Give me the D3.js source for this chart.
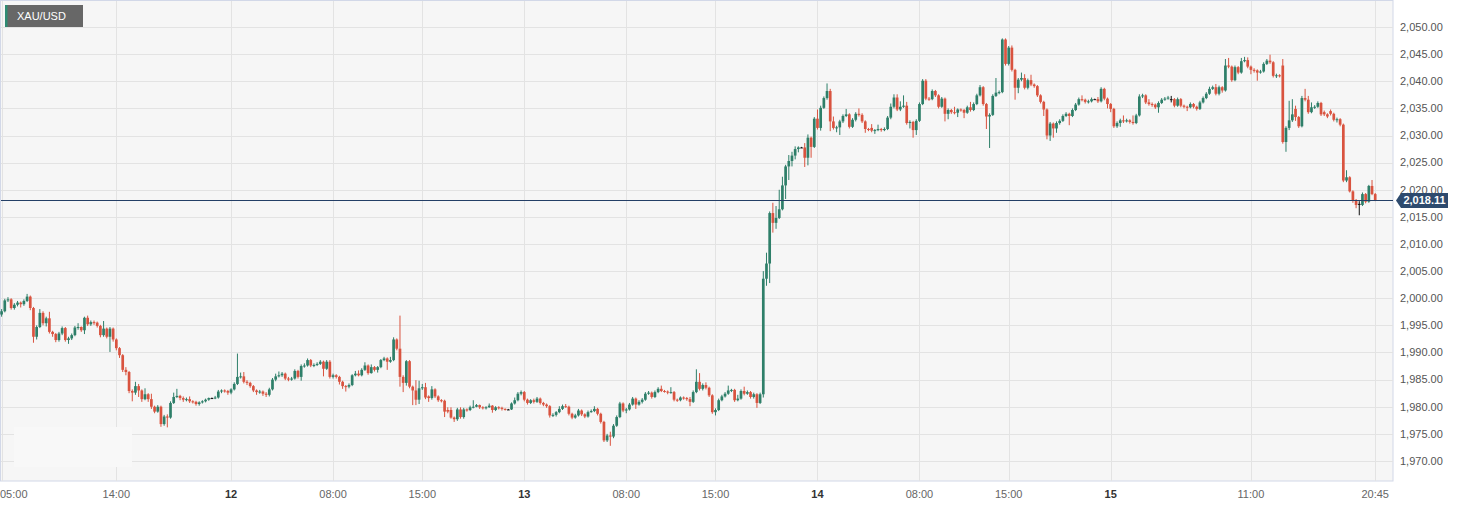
<!DOCTYPE html>
<html><head><meta charset="utf-8">
<script src="https://cdn.jsdelivr.net/npm/d3@7"></script>
<style>
body{margin:0;background:#fff;}
svg{display:block;font-family:"Liberation Sans",Arial,Helvetica,sans-serif;}
</style>
</head><body>
<svg id="chart" width="1464" height="507"></svg>
<script>
const symbol = "XAU/USD";
const lastPrice = 2018.11;
const firstCandle = {day: 11, hour: 5};

const open = [
1997.0,1997.6,1999.6,1999.8,1998.2,1998.8,1999.2,1998.9,1999.5,2000.3,
1998.2,1992.9,1994.7,1997.3,1995.4,1996.3,1993.8,1993.4,1992.3,1993.5,
1994.5,1992.3,1992.6,1993.2,1994.6,1994.7,1994.1,1996.4,1995.2,1995.6,
1995.5,1994.9,1993.2,1994.4,1992.9,1994.4,1992.4,1990.8,1989.5,1986.8,
1986.4,1982.9,1982.6,1983.8,1983.0,1981.4,1982.3,1981.4,1980.0,1979.1,
1980.0,1976.8,1978.2,1978.0,1980.7,1981.8,1982.0,1981.6,1981.3,1981.4,
1981.0,1980.9,1980.5,1980.8,1981.0,1981.3,1981.6,1981.6,1981.7,1982.8,
1983.0,1982.9,1982.6,1983.2,1984.2,1985.5,1985.6,1984.6,1984.4,1983.8,
1983.0,1982.7,1982.8,1982.4,1982.2,1983.2,1985.0,1985.6,1985.8,1986.1,
1985.2,1985.0,1985.2,1986.6,1985.5,1987.5,1987.6,1988.6,1987.6,1987.7,
1987.9,1988.3,1987.0,1988.3,1985.5,1985.8,1985.5,1984.6,1983.8,1983.7,
1984.0,1985.8,1986.1,1985.8,1986.8,1987.6,1986.2,1987.3,1986.8,1987.3,
1988.6,1988.9,1988.3,1988.6,1992.4,1990.7,1985.5,1984.4,1988.4,1983.7,
1983.0,1981.3,1983.4,1983.6,1981.9,1981.6,1983.2,1981.9,1981.2,1981.1,
1979.4,1979.4,1978.0,1977.7,1979.5,1978.1,1979.5,1979.4,1979.9,1980.0,
1980.3,1979.9,1979.8,1979.9,1980.2,1979.4,1979.9,1979.8,1979.6,1979.5,
1979.5,1980.6,1981.2,1982.4,1982.7,1981.3,1980.7,1981.2,1980.9,1981.5,
1980.7,1980.4,1980.1,1978.4,1978.5,1979.0,1979.6,1980.1,1980.0,1978.7,
1978.0,1978.4,1979.3,1978.6,1978.2,1979.0,1979.2,1979.6,1978.7,1977.2,
1973.8,1974.7,1974.5,1976.5,1978.1,1980.6,1979.3,1979.5,1980.4,1981.5,
1980.4,1980.9,1981.3,1982.4,1982.6,1981.8,1982.7,1983.3,1982.9,1982.8,
1982.6,1982.7,1981.3,1981.2,1981.7,1981.6,1981.4,1980.9,1982.7,1984.6,
1983.3,1984.0,1983.5,1982.1,1979.0,1979.4,1981.2,1981.9,1982.4,1983.0,
1983.1,1981.2,1981.5,1982.9,1982.4,1982.7,1981.8,1982.3,1980.7,1982.3,
2003.6,2006.4,2015.7,2013.9,2014.8,2016.4,2020.8,2024.3,2025.3,2026.3,
2027.5,2027.8,2027.8,2025.9,2029.6,2027.9,2033.1,2031.4,2035.1,2036.9,
2038.2,2032.6,2031.4,2031.5,2032.6,2033.6,2033.9,2031.6,2032.9,2034.0,
2033.8,2032.6,2031.2,2031.4,2030.9,2031.0,2031.2,2031.0,2031.2,2033.3,
2035.3,2037.0,2034.8,2035.3,2035.5,2032.3,2032.5,2031.0,2032.7,2035.8,
2040.1,2036.8,2036.7,2038.2,2037.4,2035.3,2036.8,2034.0,2034.7,2034.3,
2034.2,2034.8,2034.7,2034.2,2035.2,2034.7,2035.8,2037.4,2038.9,2035.8,
2033.5,2033.8,2037.3,2037.9,2038.0,2047.7,2043.2,2046.2,2042.1,2038.8,
2040.3,2040.6,2038.8,2040.2,2039.4,2039.1,2037.4,2036.2,2034.8,2030.0,
2032.2,2031.3,2032.3,2032.7,2033.6,2034.0,2033.6,2034.7,2035.7,2036.7,
2036.6,2036.2,2036.3,2036.7,2036.7,2036.3,2038.6,2036.8,2035.8,2034.9,
2031.7,2032.3,2032.8,2032.6,2032.8,2032.5,2032.3,2033.7,2037.2,2037.4,
2036.1,2035.8,2035.7,2035.2,2036.0,2036.6,2036.8,2036.7,2036.7,2035.5,
2036.7,2035.5,2035.3,2035.2,2035.8,2035.3,2034.9,2036.1,2036.9,2037.7,
2038.6,2038.9,2037.7,2038.9,2038.3,2042.9,2042.7,2040.2,2042.6,2041.6,
2043.7,2043.9,2042.7,2042.1,2042.0,2041.6,2041.8,2043.2,2043.8,2043.5,
2041.0,2041.1,2042.9,2028.8,2031.4,2032.8,2034.9,2033.4,2031.7,2036.9,
2036.6,2034.3,2035.2,2035.3,2036.0,2034.3,2033.9,2034.5,2034.0,2032.9,
2033.0,2032.0,2021.7,2022.3,2019.7,2018.1,2017.4,2017.2,2019.2,2017.8,
2020.7,2019.2
];
const high = [
1998.0,1999.9,2000.2,2000.0,1999.1,1999.5,1999.4,1999.8,2000.8,2000.5,
1998.4,1995.0,1998.0,1997.6,1996.6,1997.5,1994.0,1993.6,1993.8,1994.8,
1994.7,1992.9,1993.5,1994.9,1995.4,1994.8,1996.6,1996.8,1995.9,1995.9,
1995.7,1995.1,1995.8,1994.6,1994.7,1994.6,1992.6,1991.0,1989.7,1987.3,
1986.6,1983.2,1984.6,1984.2,1983.2,1983.4,1982.5,1982.4,1980.2,1980.3,
1980.2,1978.5,1978.6,1981.0,1982.6,1983.3,1982.2,1981.9,1981.7,1981.9,
1981.2,1981.1,1981.0,1981.2,1981.5,1981.7,1981.7,1982.0,1983.1,1983.2,
1983.2,1983.1,1983.4,1984.5,1989.8,1986.3,1986.4,1984.9,1984.6,1984.0,
1983.2,1983.1,1983.0,1982.7,1983.5,1985.3,1986.1,1986.5,1986.4,1986.3,
1985.5,1985.5,1986.9,1986.8,1987.8,1988.0,1988.9,1988.8,1988.0,1988.2,
1988.6,1988.5,1988.6,1988.6,1986.1,1986.0,1985.7,1984.8,1984.0,1984.3,
1986.0,1986.6,1986.7,1987.1,1988.2,1987.8,1987.8,1987.5,1987.5,1988.8,
1989.2,1989.1,1989.2,1992.8,1992.6,1996.8,1985.8,1988.6,1988.6,1983.9,
1984.9,1984.8,1984.2,1984.4,1982.1,1983.8,1983.4,1982.1,1981.4,1981.3,
1979.9,1979.9,1978.2,1979.8,1979.9,1979.8,1979.7,1980.2,1981.2,1980.5,
1980.4,1980.1,1980.1,1980.6,1980.3,1980.1,1980.1,1980.0,1979.7,1979.6,
1980.8,1981.7,1982.7,1983.0,1982.9,1981.5,1981.4,1981.5,1981.8,1981.7,
1980.9,1980.6,1980.3,1978.8,1979.2,1980.1,1980.4,1980.5,1980.2,1978.9,
1978.7,1979.6,1979.5,1978.8,1979.3,1979.5,1980.1,1979.8,1978.9,1977.4,
1975.0,1975.4,1976.8,1978.4,1980.9,1980.8,1979.8,1980.7,1981.8,1981.7,
1981.2,1981.6,1982.7,1982.9,1982.8,1983.0,1983.6,1983.9,1983.1,1983.0,
1983.6,1982.9,1981.5,1981.9,1981.9,1981.8,1981.8,1983.0,1986.9,1986.2,
1984.3,1984.5,1983.7,1982.3,1979.7,1981.5,1982.2,1982.7,1983.9,1983.3,
1983.3,1982.2,1983.2,1983.7,1983.0,1982.9,1982.6,1982.5,1982.6,2005.0,
2008.4,2016.0,2017.6,2017.0,2020.0,2022.4,2024.6,2026.4,2027.0,2028.0,
2028.0,2027.9,2028.6,2030.2,2029.8,2033.4,2034.8,2035.5,2037.2,2039.6,
2038.6,2033.5,2031.8,2032.9,2033.9,2034.9,2034.1,2033.2,2034.3,2035.0,
2034.1,2032.8,2031.4,2032.1,2031.2,2032.0,2031.4,2031.5,2033.6,2035.9,
2037.6,2037.6,2036.3,2037.4,2036.2,2032.8,2032.7,2033.0,2036.1,2040.4,
2040.4,2037.1,2038.5,2038.4,2037.6,2037.1,2037.0,2035.0,2034.9,2035.3,
2035.0,2035.0,2034.9,2035.5,2036.2,2036.1,2037.7,2039.3,2039.1,2036.0,
2034.1,2037.6,2040.6,2038.3,2047.9,2047.9,2046.5,2046.6,2042.3,2040.6,
2041.6,2041.3,2040.5,2041.2,2039.6,2039.3,2037.6,2036.4,2035.0,2032.5,
2032.4,2032.6,2033.0,2033.9,2034.3,2034.2,2035.0,2036.0,2037.0,2037.4,
2036.8,2036.6,2037.0,2036.8,2037.1,2038.9,2038.8,2037.0,2036.0,2035.1,
2032.6,2033.1,2033.7,2033.1,2033.0,2033.7,2034.0,2037.6,2037.7,2037.6,
2036.7,2036.1,2035.9,2036.3,2036.9,2037.1,2037.3,2037.3,2036.9,2037.0,
2036.9,2035.7,2035.5,2036.1,2036.0,2035.5,2036.4,2037.2,2038.0,2039.0,
2039.2,2039.5,2039.2,2039.1,2044.1,2044.3,2042.9,2042.9,2042.8,2044.3,
2044.5,2044.4,2042.9,2042.4,2042.2,2042.1,2043.5,2044.1,2044.9,2043.7,
2041.4,2041.3,2044.1,2031.7,2036.4,2036.7,2035.5,2033.6,2037.3,2038.6,
2037.3,2036.1,2035.6,2036.3,2036.2,2034.6,2034.1,2034.8,2034.2,2033.3,
2033.2,2032.2,2023.6,2022.5,2019.9,2018.3,2017.9,2019.5,2019.4,2020.9,
2021.8,2019.4
];
const low = [
1996.6,1997.4,1999.3,1997.9,1997.9,1998.5,1998.3,1998.6,1999.3,1997.8,
1991.8,1992.4,1994.5,1995.0,1994.8,1993.5,1992.9,1991.9,1992.0,1993.2,
1992.0,1991.6,1992.3,1993.0,1994.2,1993.8,1993.4,1994.9,1994.9,1995.1,
1994.6,1992.8,1992.9,1992.6,1990.1,1992.0,1990.4,1989.0,1986.4,1985.8,
1982.5,1981.0,1982.2,1981.8,1980.9,1981.2,1980.9,1979.6,1978.8,1978.9,
1976.3,1976.5,1976.2,1977.8,1980.5,1981.6,1981.2,1980.9,1981.0,1980.7,
1980.6,1980.2,1980.2,1980.6,1980.8,1981.1,1981.5,1981.4,1981.5,1982.5,
1982.6,1982.2,1982.3,1983.0,1984.0,1985.2,1984.3,1984.0,1983.5,1982.7,
1982.2,1982.4,1982.0,1981.8,1981.9,1983.0,1984.7,1985.4,1985.5,1984.9,
1984.7,1984.8,1985.0,1985.2,1984.8,1987.2,1987.4,1987.3,1987.3,1987.5,
1987.7,1985.6,1986.8,1985.2,1985.2,1985.2,1984.1,1983.3,1982.8,1983.4,
1983.8,1985.6,1985.6,1985.6,1986.6,1985.9,1986.1,1986.5,1986.3,1987.1,
1988.4,1986.8,1988.1,1988.4,1990.4,1983.7,1982.7,1983.9,1983.4,1980.3,
1980.3,1980.5,1983.1,1981.4,1980.9,1981.3,1981.6,1980.9,1980.8,1978.1,
1978.8,1977.8,1977.2,1977.4,1977.8,1977.8,1979.1,1979.2,1979.7,1979.9,
1979.6,1979.5,1979.5,1979.8,1978.9,1979.2,1979.5,1979.3,1979.3,1979.4,
1979.4,1980.4,1981.0,1982.1,1981.0,1980.4,1980.5,1980.6,1980.7,1980.4,
1980.1,1979.8,1978.0,1978.1,1978.2,1978.8,1979.4,1979.8,1978.4,1977.7,
1977.8,1978.2,1978.3,1977.9,1978.0,1978.9,1979.0,1978.4,1976.9,1973.5,
1973.5,1972.8,1974.2,1976.3,1977.9,1979.0,1978.8,1979.3,1980.2,1979.6,
1980.2,1980.6,1981.1,1982.2,1981.5,1981.6,1982.5,1982.7,1982.6,1982.3,
1982.4,1981.0,1980.9,1981.0,1981.3,1981.1,1980.1,1980.7,1982.5,1983.0,
1983.0,1983.2,1981.8,1978.7,1978.4,1979.2,1981.0,1981.7,1982.2,1982.7,
1980.9,1981.0,1981.3,1982.1,1982.2,1981.5,1981.5,1979.8,1980.5,1981.7,
2002.3,2002.8,2012.1,2012.8,2014.6,2016.2,2018.3,2021.8,2024.3,2025.6,
2026.9,2027.7,2024.2,2024.5,2025.9,2027.7,2031.1,2030.9,2034.9,2036.6,
2030.8,2031.1,2030.6,2030.1,2032.3,2033.4,2031.3,2031.4,2032.6,2033.5,
2032.3,2030.5,2030.8,2030.6,2030.3,2030.8,2030.7,2030.8,2031.0,2033.0,
2035.0,2034.5,2034.5,2035.1,2032.0,2031.3,2029.6,2030.1,2032.5,2035.6,
2036.5,2036.4,2036.5,2037.1,2035.0,2035.1,2032.6,2033.0,2034.0,2033.9,
2033.4,2034.4,2033.2,2034.0,2034.4,2034.5,2035.6,2037.2,2035.5,2031.2,
2027.7,2033.6,2037.1,2037.6,2037.8,2042.9,2042.9,2041.8,2036.6,2037.8,
2040.0,2038.5,2038.5,2039.1,2038.8,2037.1,2035.9,2033.6,2029.3,2029.0,
2029.6,2030.5,2032.0,2032.5,2033.4,2031.9,2033.4,2034.5,2035.5,2036.3,
2035.9,2035.9,2036.1,2036.6,2036.0,2036.1,2036.5,2035.0,2034.3,2031.4,
2031.4,2031.6,2032.3,2032.4,2032.2,2032.0,2032.1,2033.5,2036.9,2035.8,
2035.5,2035.3,2034.9,2034.2,2035.8,2036.4,2036.6,2036.1,2035.2,2035.3,
2035.2,2035.0,2034.5,2035.0,2035.0,2034.6,2034.7,2035.9,2036.7,2037.5,
2038.4,2037.4,2037.4,2037.9,2038.1,2042.4,2039.9,2040.0,2041.3,2041.4,
2043.5,2042.4,2041.3,2041.6,2040.1,2041.4,2041.6,2043.0,2043.2,2040.7,
2040.6,2040.7,2028.5,2027.0,2031.0,2032.5,2032.7,2031.4,2031.5,2036.3,
2034.0,2034.1,2034.9,2035.1,2033.6,2033.6,2033.2,2033.7,2032.6,2032.4,
2031.7,2021.4,2021.4,2019.5,2017.6,2016.6,2015.3,2017.0,2017.5,2017.6,
2019.0,2017.9
];
const close = [
1997.6,1999.6,1999.8,1998.2,1998.8,1999.2,1998.9,1999.5,2000.3,1998.2,
1992.9,1994.7,1997.3,1995.4,1996.3,1993.8,1993.4,1992.3,1993.5,1994.5,
1992.3,1992.6,1993.2,1994.6,1994.7,1994.1,1996.4,1995.2,1995.6,1995.5,
1994.9,1993.2,1994.4,1992.9,1994.4,1992.4,1990.8,1989.5,1986.8,1986.4,
1982.9,1982.6,1983.8,1983.0,1981.4,1982.3,1981.4,1980.0,1979.1,1980.0,
1976.8,1978.2,1978.0,1980.7,1981.8,1982.0,1981.6,1981.3,1981.4,1981.0,
1980.9,1980.5,1980.8,1981.0,1981.3,1981.6,1981.6,1981.7,1982.8,1983.0,
1982.9,1982.6,1983.2,1984.2,1985.5,1985.6,1984.6,1984.4,1983.8,1983.0,
1982.7,1982.8,1982.4,1982.2,1983.2,1985.0,1985.6,1985.8,1986.1,1985.2,
1985.0,1985.2,1986.6,1985.5,1987.5,1987.6,1988.6,1987.6,1987.7,1987.9,
1988.3,1987.0,1988.3,1985.5,1985.8,1985.5,1984.6,1983.8,1983.7,1984.0,
1985.8,1986.1,1985.8,1986.8,1987.6,1986.2,1987.3,1986.8,1987.3,1988.6,
1988.9,1988.3,1988.6,1992.4,1990.7,1985.5,1984.4,1988.4,1983.7,1983.0,
1981.3,1983.4,1983.6,1981.7,1981.6,1983.2,1981.9,1981.2,1981.1,1979.1,
1979.1,1978.0,1977.7,1979.5,1978.1,1979.5,1979.4,1979.9,1980.0,1980.3,
1979.9,1979.8,1979.9,1980.2,1979.4,1979.9,1979.8,1979.6,1979.5,1979.5,
1980.6,1981.2,1982.4,1982.7,1981.3,1980.7,1981.2,1980.9,1981.5,1980.7,
1980.4,1980.1,1978.4,1978.5,1979.0,1979.6,1980.1,1980.0,1978.7,1978.0,
1978.4,1979.3,1978.6,1978.2,1979.0,1979.2,1979.6,1978.7,1977.2,1973.8,
1974.7,1974.5,1976.5,1978.1,1980.6,1979.3,1979.5,1980.4,1981.5,1980.4,
1980.9,1981.3,1982.4,1982.6,1981.8,1982.7,1983.3,1982.9,1982.8,1982.6,
1982.7,1981.3,1981.2,1981.7,1981.6,1981.4,1980.9,1982.7,1984.6,1983.3,
1984.0,1983.5,1982.1,1979.0,1979.4,1981.2,1981.9,1982.4,1983.0,1983.1,
1981.2,1981.5,1982.9,1982.4,1982.7,1981.8,1982.3,1980.7,1982.3,2003.6,
2006.4,2015.7,2013.9,2014.8,2016.4,2020.8,2024.3,2025.3,2026.3,2027.5,
2027.8,2027.8,2025.9,2029.6,2027.9,2033.1,2031.4,2035.1,2036.9,2038.2,
2032.6,2031.4,2031.5,2032.6,2033.6,2033.9,2031.6,2032.9,2034.0,2033.8,
2032.6,2031.2,2031.1,2030.9,2031.0,2031.2,2031.0,2031.2,2033.3,2035.3,
2037.0,2034.8,2035.3,2035.5,2032.3,2032.5,2031.0,2032.7,2035.8,2040.1,
2036.8,2036.7,2038.2,2037.4,2035.3,2036.8,2034.0,2034.7,2034.3,2034.2,
2034.8,2034.7,2034.2,2035.2,2034.7,2035.8,2037.4,2038.9,2035.8,2033.5,
2033.8,2037.3,2037.9,2038.0,2047.7,2043.2,2046.2,2042.1,2038.8,2040.3,
2040.6,2038.8,2040.2,2039.4,2039.1,2037.4,2036.2,2034.8,2030.0,2032.2,
2031.3,2032.3,2032.7,2033.6,2034.0,2033.6,2034.7,2035.7,2036.7,2036.6,
2036.2,2036.3,2036.7,2036.7,2036.3,2038.6,2036.8,2035.8,2034.9,2031.7,
2032.3,2032.8,2032.6,2032.8,2032.5,2032.3,2033.7,2037.2,2037.4,2036.1,
2035.8,2035.7,2035.2,2036.0,2036.6,2036.8,2037.0,2036.7,2035.5,2036.7,
2035.5,2035.3,2035.2,2035.8,2035.3,2034.9,2036.1,2036.9,2037.7,2038.6,
2038.9,2037.7,2038.9,2038.3,2042.9,2042.7,2040.2,2042.6,2041.6,2043.7,
2043.9,2042.7,2042.1,2042.0,2041.6,2041.8,2043.2,2043.8,2043.5,2041.0,
2041.1,2041.0,2028.8,2031.4,2032.8,2033.9,2033.4,2031.7,2036.9,2036.6,
2034.3,2035.2,2035.3,2036.0,2033.9,2033.9,2033.5,2034.0,2032.9,2033.0,
2032.0,2021.7,2022.3,2019.7,2018.1,2017.2,2017.4,2019.2,2017.8,2020.7,
2019.2,2018.11
];

const yTickValues = [1970,1975,1980,1985,1990,1995,2000,2005,2010,2015,2020,2025,2030,2035,2040,2045,2050];
const xTickTimes  = ["11 05:00","11 14:00","12 00:00","12 08:00","12 15:00","13 00:00","13 08:00","13 15:00","14 00:00","14 08:00","14 15:00","15 00:00","15 11:00","15 20:45"];
const xTickLabels = ["05:00","14:00","12","08:00","15:00","13","08:00","15:00","14","08:00","15:00","15","11:00","20:45"];
const xTickIsDay  = [false,false,true,false,false,true,false,false,true,false,false,true,false,false];

// candle timestamps (15 min, daily break 22:00-23:00)
const times = [];
{
  let day = firstCandle.day, m = firstCandle.hour * 60;
  for (let i = 0; i < close.length; i++) {
    const hh = String(Math.floor(m / 60)).padStart(2, "0");
    const mm = String(m % 60).padStart(2, "0");
    times.push(day + " " + hh + ":" + mm);
    m += 15;
    if (m === 22 * 60) m = 23 * 60;
    if (m >= 24 * 60) { m -= 24 * 60; day++; }
  }
}
const candles = times.map((t, i) => ({t, o: open[i], h: high[i], l: low[i], c: close[i]}));

const svg = d3.select("#chart");
const plot = {left: 0.5, top: 0.5, right: 1393, bottom: 481};

const x = d3.scalePoint().domain(times).range([0, 1376.8]).padding(0.5);
const y = d3.scaleLinear().domain([1966.31, 2054.98]).range([481, 0]);

const GREEN = "#2e7f69", RED = "#d9533f", DOJI = "#111111";

// plot background
svg.append("rect").attr("x", plot.left).attr("y", plot.top)
  .attr("width", plot.right - plot.left).attr("height", plot.bottom - plot.top)
  .attr("fill", "#f6f6f6").attr("stroke", "#d2d8e8").attr("stroke-width", 1);

// horizontal grid
svg.append("g").selectAll("line").data(yTickValues).join("line")
  .attr("x1", 1).attr("x2", plot.right)
  .attr("y1", d => Math.round(y(d)) + 0.5).attr("y2", d => Math.round(y(d)) + 0.5)
  .attr("stroke", "#e3e3e3").attr("stroke-width", 1);

// vertical grid
svg.append("g").selectAll("line").data(xTickTimes).join("line")
  .attr("x1", d => Math.round(x(d)) + 0.5).attr("x2", d => Math.round(x(d)) + 0.5)
  .attr("y1", 1).attr("y2", plot.bottom)
  .attr("stroke", "#e3e3e3").attr("stroke-width", 1);

// faint patch at lower left
svg.append("rect").attr("x", 14).attr("y", 427).attr("width", 118).attr("height", 40)
  .attr("fill", "#f8f8f8");

// candles
const bw = 2.7;
const gC = svg.append("g");
const col = d => d.c > d.o ? GREEN : (d.c < d.o ? RED : DOJI);
gC.selectAll("rect.wick").data(candles).join("rect").attr("class", "wick")
  .attr("x", d => x(d.t) - 0.5).attr("width", 1)
  .attr("y", d => y(d.h)).attr("height", d => Math.max(1, y(d.l) - y(d.h)))
  .attr("fill", col);
gC.selectAll("rect.body").data(candles).join("rect").attr("class", "body")
  .attr("x", d => x(d.t) - bw / 2).attr("width", bw)
  .attr("y", d => y(Math.max(d.o, d.c)))
  .attr("height", d => Math.max(1, Math.abs(y(d.o) - y(d.c))))
  .attr("fill", col);

// last price line
const yp = Math.round(y(lastPrice)) + 0.5;
svg.append("line").attr("x1", 1).attr("x2", plot.right).attr("y1", yp).attr("y2", yp)
  .attr("stroke", "#243f66").attr("stroke-width", 1);

// right axis labels
const fmt = d3.format(",.2f");
svg.append("g").selectAll("text").data(yTickValues).join("text")
  .attr("x", 1400).attr("y", d => y(d)).attr("dy", "0.35em")
  .attr("font-size", 11).attr("fill", "#555").text(d => fmt(d));

// last price tag
const tag = svg.append("g");
tag.append("path")
  .attr("d", `M1396,${yp} L1401,${yp - 7.5} L1448,${yp - 7.5} L1448,${yp + 7.5} L1401,${yp + 7.5} Z`)
  .attr("fill", "#2d4a6e");
tag.append("text").attr("x", 1424.5).attr("y", yp).attr("dy", "0.36em")
  .attr("text-anchor", "middle").attr("font-size", 11).attr("font-weight", "bold")
  .attr("fill", "#fff").text(fmt(lastPrice));

// bottom axis labels
svg.append("g").selectAll("text").data(xTickTimes).join("text")
  .attr("x", (d, i) => i === 0 ? 0 : x(d))
  .attr("y", 498)
  .attr("text-anchor", (d, i) => i === 0 ? "start" : "middle")
  .attr("font-size", 11)
  .attr("font-weight", (d, i) => xTickIsDay[i] ? "bold" : "normal")
  .attr("fill", (d, i) => xTickIsDay[i] ? "#333" : "#666")
  .text((d, i) => xTickLabels[i]);

// symbol badge
svg.append("rect").attr("x", 5).attr("y", 5).attr("width", 78).attr("height", 22).attr("fill", "#676767");
svg.append("rect").attr("x", 5).attr("y", 5).attr("width", 2.5).attr("height", 22).attr("fill", "#2e8b73");
svg.append("text").attr("x", 17).attr("y", 16).attr("dy", "0.35em")
  .attr("font-size", 11).attr("fill", "#fff").text(symbol);
</script>
</body></html>
